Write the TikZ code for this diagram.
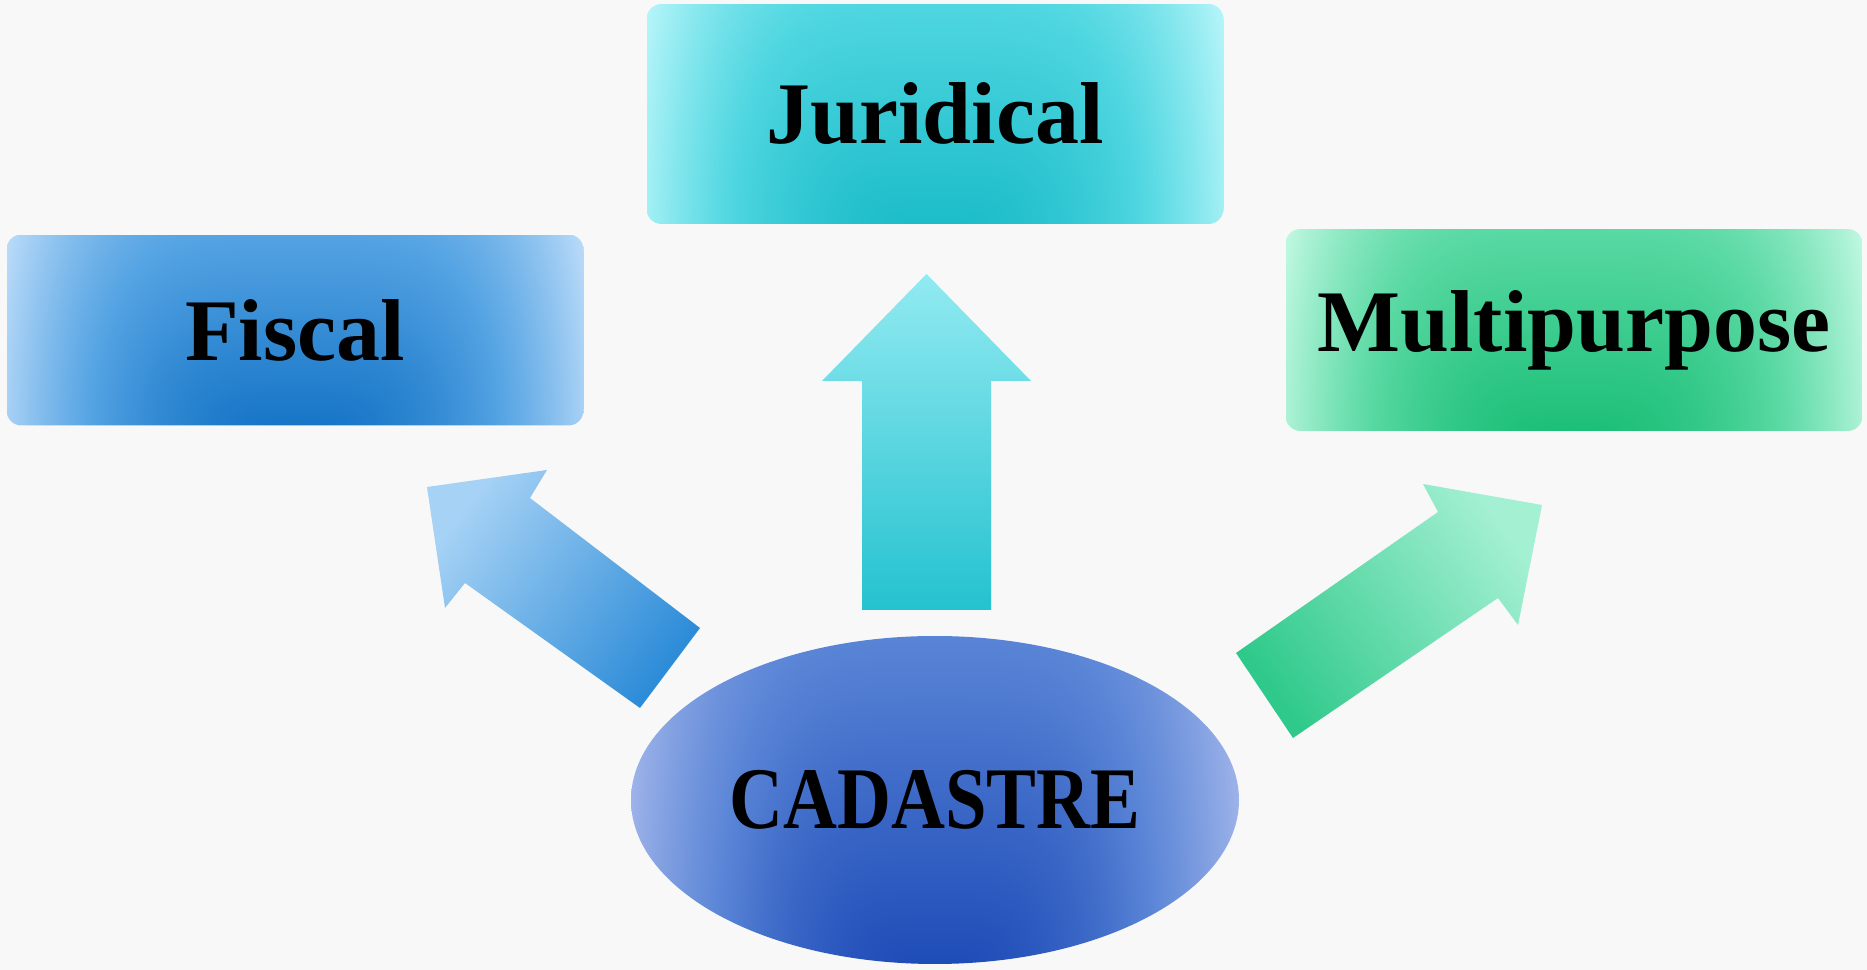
\documentclass[tikz,border=0pt]{standalone}
\usepackage{fontspec}
\setmainfont{Liberation Serif}
\usetikzlibrary{positioning,shapes.geometric}

\definecolor{bgcol}{RGB}{248,248,248}
\definecolor{fisarrowtip}{RGB}{166,210,245}
\definecolor{fisarrowend}{RGB}{45,140,216}
\definecolor{jurarrowtip}{RGB}{146,234,241}
\definecolor{jurarrowend}{RGB}{36,194,207}
\definecolor{mularrowtip}{RGB}{164,240,211}
\definecolor{mularrowend}{RGB}{47,201,139}

% glow: dark at bottom centre, mid over most, light at the sides
\pgfdeclarefunctionalshading{fiscalglow}{\pgfpoint{-25bp}{-25bp}}{\pgfpoint{25bp}{25bp}}{}{
  25 add 100 div dup mul exch 25 div dup mul dup mul add sqrt
  dup 0.5 lt
  {2 mul dup 0.24 mul 0.09 add exch dup 0.18 mul 0.46 add exch 0.11 mul 0.78 add}
  {0.5 sub 2 mul dup 0.33 mul 0.33 add exch dup 0.18 mul 0.64 add exch 0.07 mul 0.89 add}
  ifelse}
\pgfdeclarefunctionalshading{jurglow}{\pgfpoint{-25bp}{-25bp}}{\pgfpoint{25bp}{25bp}}{}{
  25 add 100 div dup mul exch 25 div dup mul dup mul add sqrt
  dup 0.5 lt
  {2 mul dup 0.20 mul 0.11 add exch dup 0.10 mul 0.74 add exch 0.09 mul 0.79 add}
  {0.5 sub 2 mul dup 0.33 mul 0.31 add exch dup 0.10 mul 0.84 add exch 0.08 mul 0.88 add}
  ifelse}
\pgfdeclarefunctionalshading{mulglow}{\pgfpoint{-25bp}{-25bp}}{\pgfpoint{25bp}{25bp}}{}{
  25 add 100 div dup mul exch 25 div dup mul dup mul add sqrt
  dup 0.5 lt
  {2 mul dup 0.24 mul 0.11 add exch dup 0.10 mul 0.75 add exch 0.17 mul 0.47 add}
  {0.5 sub 2 mul dup 0.33 mul 0.35 add exch dup 0.10 mul 0.85 add exch 0.20 mul 0.64 add}
  ifelse}
\pgfdeclarefunctionalshading{cadglow}{\pgfpoint{-25bp}{-25bp}}{\pgfpoint{25bp}{25bp}}{}{
  25 add 100 div dup mul exch 25 div dup mul dup mul add sqrt
  dup 0.5 lt
  {2 mul dup 0.23 mul 0.12 add exch dup 0.22 mul 0.30 add exch 0.12 mul 0.72 add}
  {0.5 sub 2 mul dup 0.25 mul 0.35 add exch dup 0.17 mul 0.52 add exch 0.07 mul 0.84 add}
  ifelse}

\begin{document}
\begin{tikzpicture}[on grid,
    box/.style={rectangle,rounded corners=0.15cm,inner sep=0pt,shade,
      minimum width=5.77cm,minimum height=1.91cm,
      font=\fontsize{25}{30}\selectfont\bfseries},
    hub/.style={ellipse,inner sep=0pt,shade,
      minimum width=6.08cm,minimum height=3.28cm,
      font=\fontsize{25}{30}\selectfont\bfseries}]
  \fill[bgcol] (0,0) rectangle (18.67,9.70);

  \node [hub,shading=cadglow] (cad) at (9.35,1.70) {\scalebox{0.85}[1]{CADASTRE}};
  \node [box,shading=jurglow,minimum height=2.20cm] (jur) [above=6.86cm of cad] {Juridical};
  \node [box,shading=fiscalglow] (fis) [above left=4.70cm and 6.40cm of cad] {Fiscal};
  \node [box,shading=mulglow,minimum height=2.02cm] (mul) [above right=4.70cm and 6.39cm of cad] {Multipurpose};

  % block arrows
  \shade[top color=fisarrowtip,bottom color=fisarrowend,shading angle=53]
    (7.00,3.42) -- (5.30,4.72) -- (5.47,5.00) -- (4.27,4.83)
    -- (4.45,3.62) -- (4.65,3.87) -- (6.40,2.62) -- cycle;
  \shade[top color=jurarrowtip,bottom color=jurarrowend]
    (8.62,3.60) -- (8.62,5.89) -- (8.22,5.89) -- (9.265,6.96)
    -- (10.31,5.89) -- (9.91,5.89) -- (9.91,3.60) -- cycle;
  \shade[top color=mularrowtip,bottom color=mularrowend,shading angle=-55]
    (12.36,3.17) -- (14.38,4.58) -- (14.23,4.86) -- (15.42,4.65)
    -- (15.18,3.45) -- (14.98,3.72) -- (12.93,2.32) -- cycle;
\end{tikzpicture}
\end{document}
